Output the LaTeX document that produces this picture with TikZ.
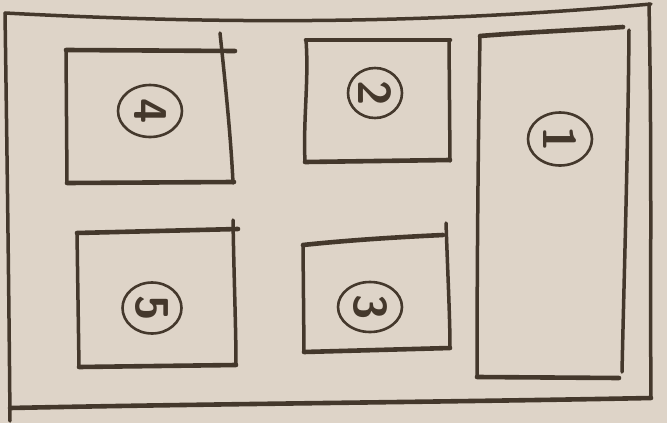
\documentclass[tikz,border=0pt]{standalone}
\usetikzlibrary{shapes.geometric}
\definecolor{paper}{RGB}{222,212,200}
\definecolor{ink}{RGB}{68,56,44}
\tikzset{
  pen/.style={draw=ink, line width=3.5pt, line cap=round, line join=round},
  heavy/.style={pen, line width=4.6pt},
  tag/.style={ellipse, draw=ink, line width=2.6pt, inner sep=0pt, rotate=-90,
    text=ink, font=\sffamily\bfseries\fontsize{46}{46}\selectfont},
}
\begin{document}
\begin{tikzpicture}[x=1pt,y=-1pt]
\fill[paper] (0,0) rectangle (667,423);
\useasboundingbox (0,0) rectangle (667,423);
% outer frame
\draw[pen] (5,13) .. controls (250,26) and (450,22) .. (651,4);
\draw[pen] (5,13) .. controls (7,150) and (9,300) .. (10,421);
\draw[heavy] (10,408) .. controls (200,404) and (450,402) .. (651,398);
\draw[pen] (649,4) .. controls (652,150) and (650,300) .. (651,398);
% box 4
\draw[heavy] (66,50) -- (235,51);
\draw[pen] (220,33) .. controls (226,90) and (231,140) .. (233,183);
\draw[heavy] (67,183) -- (234,182);
\draw[pen] (66,50) -- (67,183);
% box 2
\draw[heavy] (306,40) -- (450,40);
\draw[pen] (449,40) -- (450,161);
\draw[heavy] (305,162) -- (450,160);
\draw[pen] (306,40) .. controls (309,80) and (303,120) .. (305,162);
% box 1
\draw[heavy] (480,36) .. controls (530,32) and (580,30) .. (623,27);
\draw[pen] (480,36) .. controls (478,150) and (477,280) .. (477,377);
\draw[pen] (629,30) .. controls (628,150) and (624,280) .. (622,372);
\draw[heavy] (477,377) -- (619,378);
% box 5
\draw[heavy] (77,233) -- (238,229);
\draw[pen] (77,233) -- (79,367);
\draw[pen] (233,220) .. controls (234,280) and (236,330) .. (236,365);
\draw[heavy] (79,367) -- (236,365);
% box 3
\draw[heavy] (303,245) .. controls (350,240) and (400,237) .. (443,235);
\draw[pen] (303,245) -- (304,352);
\draw[pen] (446,223) .. controls (448,280) and (450,320) .. (450,348);
\draw[heavy] (304,352) -- (450,348);
% circled numbers (written sideways)
\node[tag, minimum width=52pt, minimum height=64pt] (n4) at (150,111) {4};
\node[tag, minimum width=50pt, minimum height=54pt] (n2) at (375,93) {2};
\node[tag, minimum width=53pt, minimum height=64pt] (n1) at (560,139) {1};
\node[tag, minimum width=51pt, minimum height=59pt] (n5) at (152,308) {5};
\node[tag, minimum width=50pt, minimum height=64pt] (n3) at (370,307) {3};
\end{tikzpicture}
\end{document}
